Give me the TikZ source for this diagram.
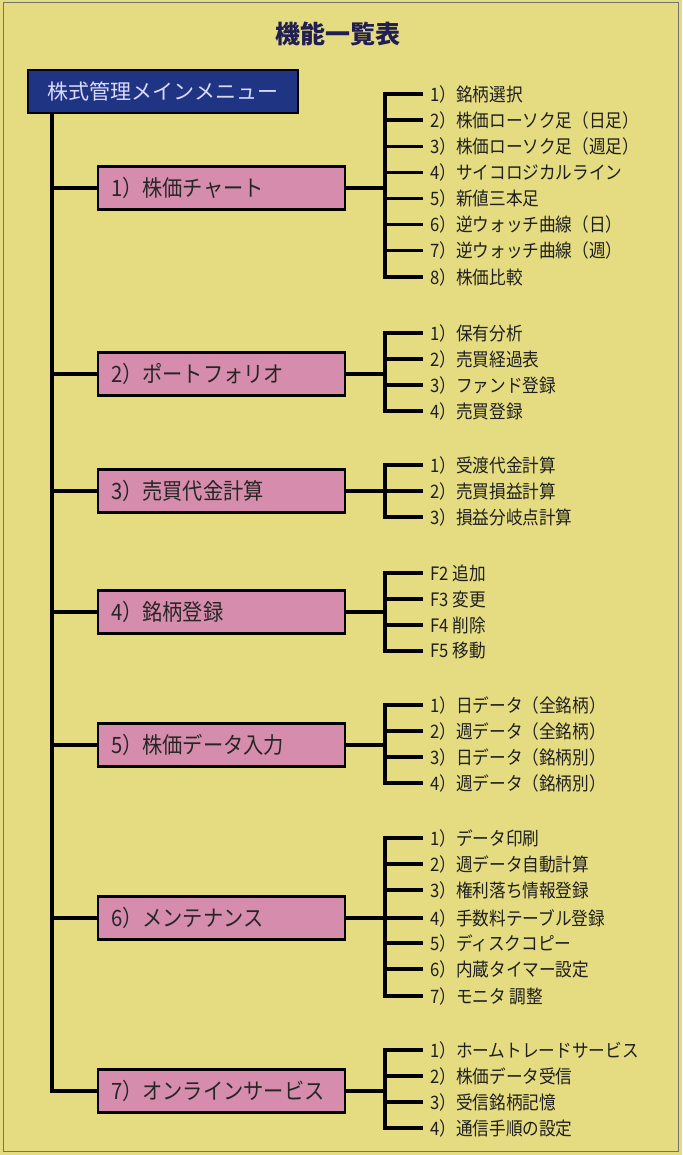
\documentclass[tikz,border=0pt]{standalone}
\usepackage{fontspec}
\newfontfamily\jpfont{Noto Sans CJK JP}
\newfontfamily\jpnarrow[FakeStretch=0.9]{Noto Sans CJK JP}
\definecolor{paper}{RGB}{229,220,130}
\definecolor{menublue}{RGB}{32,52,132}
\definecolor{boxpink}{RGB}{214,140,172}
\definecolor{titleink}{RGB}{32,30,82}
\tikzset{
    menubox/.style={draw=black,line width=2.6pt,fill=menublue,text=white!86!blue,
        font=\jpfont\fontsize{21}{24}\selectfont,minimum width=270pt,minimum height=43pt,inner sep=0pt},
    subbox/.style={draw=black,line width=2.6pt,fill=boxpink,text=black!85,
        font=\jpnarrow\fontsize{22.5}{25}\selectfont,text width=221pt,align=left,
        inner xsep=13pt,inner ysep=0pt,minimum height=43pt},
    leaf/.style={anchor=west,font=\jpnarrow\fontsize{18.5}{21}\selectfont,text=black!88,
        inner xsep=7pt,inner ysep=0pt},
    wire/.style={line width=3.2pt}
}
\begin{document}
\begin{tikzpicture}[x=1pt,y=-1pt]
        \useasboundingbox (0,0) rectangle (682,1155);
        \fill [paper] (0,0) rectangle (682,1155);
        \draw [line width=1pt,black!55] (3,3) rectangle (678,1151);
        \node [font=\jpfont\bfseries\fontsize{25}{28}\selectfont,text=titleink] (title) at (338,34) {機能一覧表};
        % main menu and trunk
        \node [menubox] (menu) at (163,91.5) {株式管理メインメニュー};
        \coordinate (t) at (52,113);
        \node [subbox] (s1) at (221.5,188) {1）株価チャート};
        \node [subbox] (s2) at (221.5,374) {2）ポートフォリオ};
        \node [subbox] (s3) at (221.5,491) {3）売買代金計算};
        \node [subbox] (s4) at (221.5,612) {4）銘柄登録};
        \node [subbox] (s5) at (221.5,745) {5）株価データ入力};
        \node [subbox] (s6) at (221.5,918) {6）メンテナンス};
        \node [subbox] (s7) at (221.5,1091) {7）オンラインサービス};
        \draw [line width=3.6pt] (t) -- (t |- s7) -- (s7.west);
        \draw [wire] (t |- s1) -- (s1.west);
        \draw [wire] (t |- s2) -- (s2.west);
        \draw [wire] (t |- s3) -- (s3.west);
        \draw [wire] (t |- s4) -- (s4.west);
        \draw [wire] (t |- s5) -- (s5.west);
        \draw [wire] (t |- s6) -- (s6.west);
        % brackets
        \coordinate (b1) at (385,188);
        \coordinate (b2) at (385,374);
        \coordinate (b3) at (385,491);
        \coordinate (b4) at (385,612);
        \coordinate (b5) at (385,745);
        \coordinate (b6) at (385,918);
        \coordinate (b7) at (385,1091);
        % 1) chart
        \node [leaf] (l11) at (423,94) {1）銘柄選択};
        \node [leaf] (l12) at (423,120) {2）株価ローソク足（日足）};
        \node [leaf] (l13) at (423,146.5) {3）株価ローソク足（週足）};
        \node [leaf] (l14) at (423,172.5) {4）サイコロジカルライン};
        \node [leaf] (l15) at (423,198.5) {5）新値三本足};
        \node [leaf] (l16) at (423,224.5) {6）逆ウォッチ曲線（日）};
        \node [leaf] (l17) at (423,250.5) {7）逆ウォッチ曲線（週）};
        \node [leaf] (l18) at (423,277) {8）株価比較};
        \draw [wire] (s1.east) -- (b1);
        \draw [wire] (l11.west) -- (b1 |- l11) -- (b1 |- l18) -- (l18.west);
        \draw [wire] (b1 |- l12) -- (l12.west);
        \draw [wire] (b1 |- l13) -- (l13.west);
        \draw [wire] (b1 |- l14) -- (l14.west);
        \draw [wire] (b1 |- l15) -- (l15.west);
        \draw [wire] (b1 |- l16) -- (l16.west);
        \draw [wire] (b1 |- l17) -- (l17.west);
        % 2) portfolio
        \node [leaf] (l21) at (423,333) {1）保有分析};
        \node [leaf] (l22) at (423,359) {2）売買経過表};
        \node [leaf] (l23) at (423,385) {3）ファンド登録};
        \node [leaf] (l24) at (423,411) {4）売買登録};
        \draw [wire] (s2.east) -- (b2);
        \draw [wire] (l21.west) -- (b2 |- l21) -- (b2 |- l24) -- (l24.west);
        \draw [wire] (b2 |- l22) -- (l22.west);
        \draw [wire] (b2 |- l23) -- (l23.west);
        % 3) settlement
        \node [leaf] (l31) at (423,465) {1）受渡代金計算};
        \node [leaf] (l32) at (423,491) {2）売買損益計算};
        \node [leaf] (l33) at (423,517) {3）損益分岐点計算};
        \draw [wire] (s3.east) -- (b3);
        \draw [wire] (l31.west) -- (b3 |- l31) -- (b3 |- l33) -- (l33.west);
        \draw [wire] (b3 |- l32) -- (l32.west);
        % 4) issue registration
        \node [leaf] (l41) at (423,573) {F2 追加};
        \node [leaf] (l42) at (423,599) {F3 変更};
        \node [leaf] (l43) at (423,625) {F4 削除};
        \node [leaf] (l44) at (423,651) {F5 移動};
        \draw [wire] (s4.east) -- (b4);
        \draw [wire] (l41.west) -- (b4 |- l41) -- (b4 |- l44) -- (l44.west);
        \draw [wire] (b4 |- l42) -- (l42.west);
        \draw [wire] (b4 |- l43) -- (l43.west);
        % 5) price input
        \node [leaf] (l51) at (423,705) {1）日データ（全銘柄）};
        \node [leaf] (l52) at (423,731) {2）週データ（全銘柄）};
        \node [leaf] (l53) at (423,757) {3）日データ（銘柄別）};
        \node [leaf] (l54) at (423,783) {4）週データ（銘柄別）};
        \draw [wire] (s5.east) -- (b5);
        \draw [wire] (l51.west) -- (b5 |- l51) -- (b5 |- l54) -- (l54.west);
        \draw [wire] (b5 |- l52) -- (l52.west);
        \draw [wire] (b5 |- l53) -- (l53.west);
        % 6) maintenance
        \node [leaf] (l61) at (423,838) {1）データ印刷};
        \node [leaf] (l62) at (423,864) {2）週データ自動計算};
        \node [leaf] (l63) at (423,890) {3）権利落ち情報登録};
        \node [leaf] (l64) at (423,918) {4）手数料テーブル登録};
        \node [leaf] (l65) at (423,943) {5）ディスクコピー};
        \node [leaf] (l66) at (423,969) {6）内蔵タイマー設定};
        \node [leaf] (l67) at (423,996) {7）モニタ 調整};
        \draw [wire] (s6.east) -- (b6);
        \draw [wire] (l61.west) -- (b6 |- l61) -- (b6 |- l67) -- (l67.west);
        \draw [wire] (b6 |- l62) -- (l62.west);
        \draw [wire] (b6 |- l63) -- (l63.west);
        \draw [wire] (b6 |- l64) -- (l64.west);
        \draw [wire] (b6 |- l65) -- (l65.west);
        \draw [wire] (b6 |- l66) -- (l66.west);
        % 7) online
        \node [leaf] (l71) at (423,1050) {1）ホームトレードサービス};
        \node [leaf] (l72) at (423,1076) {2）株価データ受信};
        \node [leaf] (l73) at (423,1102) {3）受信銘柄記憶};
        \node [leaf] (l74) at (423,1128) {4）通信手順の設定};
        \draw [wire] (s7.east) -- (b7);
        \draw [wire] (l71.west) -- (b7 |- l71) -- (b7 |- l74) -- (l74.west);
        \draw [wire] (b7 |- l72) -- (l72.west);
        \draw [wire] (b7 |- l73) -- (l73.west);
\end{tikzpicture}
\end{document}
